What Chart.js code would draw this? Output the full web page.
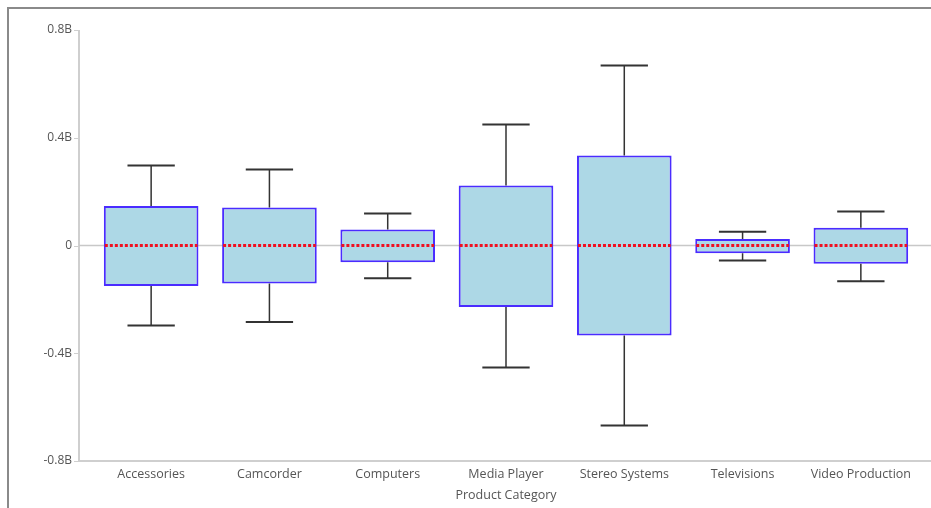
<!DOCTYPE html>
<html>
<head>
<meta charset="utf-8">
<script src="https://cdn.jsdelivr.net/npm/chart.js@4/dist/chart.umd.min.js"></script>
<style>
  html, body { margin: 0; padding: 0; background: #fff; }
  #wrap { position: relative; width: 931px; height: 508px; overflow: hidden; }
  #frame { position: absolute; left: 7px; top: 7px; width: 940px; height: 520px;
           border-left: 2px solid #8a8a8a; border-top: 2px solid #8a8a8a; }
  canvas { position: absolute; left: 0; top: 0; }
</style>
</head>
<body>
<div id="wrap">
  <div id="frame"></div>
  <canvas id="myChart" width="931" height="508"></canvas>
</div>
<script>
// box plot values, in billions
var categories = ['Accessories', 'Camcorder', 'Computers', 'Media Player', 'Stereo Systems', 'Televisions', 'Video Production'];
var whiskerHigh = [0.297, 0.282, 0.119, 0.449, 0.668, 0.051, 0.126];
var q3 = [0.147, 0.141, 0.059, 0.223, 0.334, 0.024, 0.066];
var median = [0, 0, 0, 0, 0, 0, 0];
var q1 = [-0.150, -0.141, -0.062, -0.228, -0.334, -0.029, -0.068];
var whiskerLow = [-0.297, -0.284, -0.122, -0.453, -0.668, -0.056, -0.133];
var yTicks = [-0.8, -0.4, 0, 0.4, 0.8];

var B = 1e9;
var boxes = categories.map(function (c, i) { return [q1[i] * B, q3[i] * B]; });

// axis lines, zero line, whiskers and medians
var boxPlotExtras = {
  id: 'boxPlotExtras',
  beforeDatasetsDraw: function (chart) {
    var ctx = chart.ctx, y = chart.scales.y, area = chart.chartArea;
    var axisX = area.left - 13;
    ctx.save();
    ctx.strokeStyle = '#cfcfcf';
    ctx.lineWidth = 2;
    ctx.beginPath();
    ctx.moveTo(axisX, area.top);
    ctx.lineTo(axisX, area.bottom + 1);
    ctx.moveTo(axisX, area.bottom);
    ctx.lineTo(chart.width, area.bottom);
    ctx.stroke();
    ctx.lineWidth = 1;
    ctx.beginPath();
    yTicks.forEach(function (t) {
      var py = Math.round(y.getPixelForValue(t * B)) + 0.5;
      ctx.moveTo(axisX - 5, py);
      ctx.lineTo(axisX, py);
    });
    ctx.stroke();
    ctx.strokeStyle = '#c8c8c8';
    ctx.lineWidth = 1.5;
    var zy = y.getPixelForValue(0);
    ctx.beginPath();
    ctx.moveTo(axisX, zy);
    ctx.lineTo(chart.width, zy);
    ctx.stroke();
    ctx.restore();
  },
  afterDatasetsDraw: function (chart) {
    var ctx = chart.ctx, y = chart.scales.y;
    var bars = chart.getDatasetMeta(0).data;
    ctx.save();
    bars.forEach(function (bar, i) {
      var x = bar.x, w = bar.width;
      var top = y.getPixelForValue(q3[i] * B), bot = y.getPixelForValue(q1[i] * B);
      var hi = y.getPixelForValue(whiskerHigh[i] * B), lo = y.getPixelForValue(whiskerLow[i] * B);
      ctx.strokeStyle = '#333';
      ctx.lineWidth = 1.5;
      ctx.setLineDash([]);
      ctx.beginPath();
      ctx.moveTo(x, top); ctx.lineTo(x, hi);
      ctx.moveTo(x, bot); ctx.lineTo(x, lo);
      ctx.stroke();
      ctx.lineWidth = 2;
      ctx.beginPath();
      ctx.moveTo(x - w / 4, hi); ctx.lineTo(x + w / 4, hi);
      ctx.moveTo(x - w / 4, lo); ctx.lineTo(x + w / 4, lo);
      ctx.stroke();
      var my = y.getPixelForValue(median[i] * B);
      ctx.strokeStyle = '#f01020';
      ctx.lineWidth = 3;
      ctx.setLineDash([3, 2]);
      ctx.beginPath();
      ctx.moveTo(x - w / 2 + 1, my); ctx.lineTo(x + w / 2 - 1, my);
      ctx.stroke();
    });
    ctx.restore();
  }
};

Chart.defaults.font.family = "'Open Sans', 'Noto Sans', sans-serif";
Chart.defaults.font.size = 12.5;
Chart.defaults.color = '#555';

var ctx = document.getElementById('myChart').getContext('2d');
var myChart = new Chart(ctx, {
  type: 'bar',
  data: {
    labels: categories,
    datasets: [{
      label: 'Sales',
      data: boxes,
      backgroundColor: '#add8e6',
      borderColor: '#4a2cff',
      borderWidth: 2,
      borderSkipped: false,
      barPercentage: 0.8,
      categoryPercentage: 1.0
    }]
  },
  options: {
    responsive: false,
    animation: false,
    layout: { padding: { top: 30, right: 11, bottom: 0, left: 0 } },
    plugins: { legend: { display: false }, tooltip: { enabled: false } },
    scales: {
      x: {
        grid: { display: false, drawTicks: false },
        border: { display: false },
        ticks: { padding: 6, maxRotation: 0, autoSkip: false },
        title: { display: true, text: 'Product Category', padding: { top: 2, bottom: 5 } },
        afterFit: function (s) { s.height = 47; }
      },
      y: {
        min: -0.8 * B,
        max: 0.8 * B,
        grid: { display: false, drawTicks: false },
        border: { display: false },
        afterBuildTicks: function (s) { s.ticks = yTicks.map(function (v) { return { value: v * B }; }); },
        ticks: {
          padding: 20,
          font: { size: 12 },
          callback: function (v) { return v === 0 ? '0' : (v / B) + 'B'; }
        },
        afterFit: function (s) { s.width = 92; }
      }
    }
  },
  plugins: [boxPlotExtras]
});
</script>
</body>
</html>
